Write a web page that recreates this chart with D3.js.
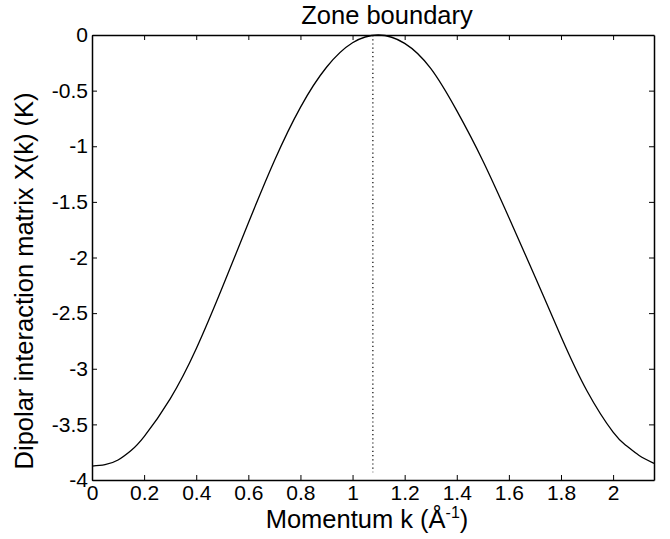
<!DOCTYPE html>
<html>
<head>
<meta charset="utf-8">
<script src="https://cdn.jsdelivr.net/npm/d3@7/dist/d3.min.js"></script>
<style>
  body { margin: 0; background: #fff; }
  svg { display: block; font-family: "Liberation Sans", Arial, sans-serif; }
  .axis path, .axis line { stroke: #000; }
  .axis text { font-size: 21px; fill: #000; }
</style>
</head>
<body>
<script>
// momentum k (1/A) and X(k) (K)
const kVals = [0, 0.05, 0.1, 0.15, 0.2, 0.3, 0.4, 0.5, 0.6, 0.7, 0.8, 0.9, 1.0, 1.1,
  1.2, 1.3, 1.4, 1.5, 1.6, 1.7, 1.8, 1.9, 2.0, 2.05, 2.1, 2.157];
const xkVals = [-3.875, -3.862, -3.82, -3.735, -3.61, -3.27, -2.82, -2.27, -1.69, -1.13, -0.65, -0.29, -0.07, 0,
  -0.075, -0.30, -0.68, -1.13, -1.64, -2.17, -2.71, -3.20, -3.57, -3.69, -3.78, -3.85];
const zoneBoundary = 1.078;
const xTicks = [0, 0.2, 0.4, 0.6, 0.8, 1, 1.2, 1.4, 1.6, 1.8, 2];
const yTicks = [0, -0.5, -1, -1.5, -2, -2.5, -3, -3.5, -4];

const W = 670, H = 539;
const margin = {left: 92, right: 16, top: 35, bottom: 59};
const iw = W - margin.left - margin.right, ih = H - margin.top - margin.bottom;

const svg = d3.select("body").append("svg").attr("width", W).attr("height", H);
const g = svg.append("g").attr("transform", `translate(${margin.left},${margin.top})`);

const x = d3.scaleLinear().domain([0, 2.157]).range([0, iw]);
const y = d3.scaleLinear().domain([-4, 0]).range([ih, 0]);

// inward ticks on all four sides (matlab style)
const fmt = d => String(d);
g.append("g").attr("class", "axis").attr("transform", `translate(0,${ih})`)
  .call(d3.axisBottom(x).tickValues(xTicks).tickFormat(fmt).tickSizeInner(-5).tickSizeOuter(0).tickPadding(5));
g.append("g").attr("class", "axis")
  .call(d3.axisTop(x).tickValues(xTicks).tickFormat("").tickSizeInner(-5).tickSizeOuter(0));
g.append("g").attr("class", "axis")
  .call(d3.axisLeft(y).tickValues(yTicks).tickFormat(fmt).tickSizeInner(-5).tickSizeOuter(0).tickPadding(4));
g.append("g").attr("class", "axis").attr("transform", `translate(${iw},0)`)
  .call(d3.axisRight(y).tickValues(yTicks).tickFormat("").tickSizeInner(-5).tickSizeOuter(0));
g.selectAll(".axis path").attr("stroke-width", 1.5);

// zone boundary
g.append("line")
  .attr("x1", x(zoneBoundary)).attr("x2", x(zoneBoundary))
  .attr("y1", y(0)).attr("y2", y(-3.93))
  .attr("stroke", "#000").attr("stroke-width", 1.2).attr("stroke-dasharray", "1.2,3");

const pts = kVals.map((k, i) => [k, xkVals[i]]);
g.append("path").datum(pts)
  .attr("fill", "none").attr("stroke", "#000").attr("stroke-width", 1.3)
  .attr("d", d3.line().x(d => x(d[0])).y(d => y(d[1])).curve(d3.curveNatural));

svg.append("text").attr("x", 387).attr("y", 24).attr("text-anchor", "middle")
  .attr("font-size", 25.5).text("Zone boundary");

const xl = svg.append("text").attr("x", 367).attr("y", 528).attr("text-anchor", "middle").attr("font-size", 25.5);
xl.append("tspan").text("Momentum k (Å");
xl.append("tspan").attr("dy", -10).attr("font-size", 16).text("-1");
xl.append("tspan").attr("dy", 10).text(")");

svg.append("text").attr("transform", `translate(33,281) rotate(-90)`)
  .attr("text-anchor", "middle").attr("font-size", 25.5).text("Dipolar interaction matrix X(k) (K)");
</script>
</body>
</html>
